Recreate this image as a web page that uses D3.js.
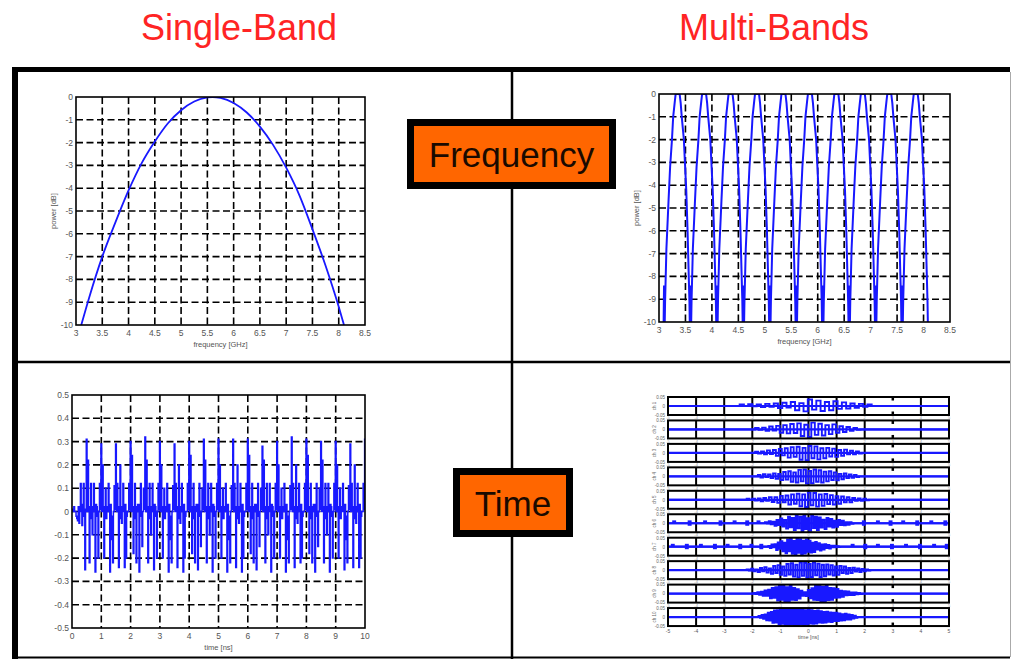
<!DOCTYPE html>
<html><head><meta charset="utf-8">
<script src="https://cdn.jsdelivr.net/npm/d3@7"></script>
<style>body{margin:0;background:#fff}svg{display:block}</style>
</head><body><svg id="c" width="1013" height="659"></svg>
<script>
// ---------------- DATA ----------------
const columnTitles = ["Single-Band", "Multi-Bands"];
const rowLabels = ["Frequency", "Time"];

// frequency-domain axes
const freqTicks = [3, 3.5, 4, 4.5, 5, 5.5, 6, 6.5, 7, 7.5, 8, 8.5];
const freqTickLabels = ["3", "3.5", "4", "4.5", "5", "5.5", "6", "6.5", "7", "7.5", "8", "8.5"];
const powerTicks = [0, -1, -2, -3, -4, -5, -6, -7, -8, -9, -10];
const powerTickLabels = ["0", "-1", "-2", "-3", "-4", "-5", "-6", "-7", "-8", "-9", "-10"];

// single band spectrum
const sbFreq = [3.1, 3.25, 3.5, 3.75, 4, 4.25, 4.5, 4.75, 5, 5.25, 5.5, 5.6, 5.75, 6, 6.25, 6.5, 6.75, 7, 7.25, 7.5, 7.75, 8, 8.1];
const sbPower = [-10, -8.8, -7.0, -5.5, -4.1, -2.9, -1.95, -1.15, -0.58, -0.2, -0.02, 0, -0.04, -0.26, -0.68, -1.3, -2.1, -3.1, -4.3, -5.8, -7.4, -9.2, -10];

// multi band spectrum: band centres and the shape of one lobe (offset GHz, power dB)
const mbCenters = [3.35, 3.85, 4.35, 4.85, 5.35, 5.85, 6.35, 6.85, 7.35, 7.85];
const lobeOffset = [-0.265, -0.255, -0.245, -0.235, -0.21, -0.17, -0.14, -0.105, -0.082, -0.05, -0.035, 0.04, 0.06, 0.08, 0.12, 0.14, 0.165, 0.19, 0.21, 0.225, 0.235];
const lobePower = [-10.5, -8.4, -10.5, -9.1, -6.8, -4.7, -3.2, -2, -1, -0.3, 0, 0, -0.4, -1, -2, -3, -4.2, -6, -7.8, -9.1, -10.5];

// single band time signal (samples every 0.025 ns)
const timeTicks = [0, 1, 2, 3, 4, 5, 6, 7, 8, 9, 10];
const timeTickLabels = ["0", "1", "2", "3", "4", "5", "6", "7", "8", "9", "10"];
const ampTicks = [0.5, 0.4, 0.3, 0.2, 0.1, 0, -0.1, -0.2, -0.3, -0.4, -0.5];
const ampTickLabels = ["0.5", "0.4", "0.3", "0.2", "0.1", "0", "-0.1", "-0.2", "-0.3", "-0.4", "-0.5"];
const tdStep = 0.025;
const tdIntro = [0.01, 0.01, 0.0, -0.02, -0.04, -0.05, 0.12, -0.06, 0.12, -0.25];
const tdSpikes = [0.31, 0.29, 0.29, 0.30, 0.32, 0.30, 0.29, 0.30, 0.31, 0.31, 0.31, 0.31, 0.28, 0.30, 0.32, 0.31, 0.30, 0.30, 0.29, 0.31];
const tdTroughs = [-0.26, -0.26, -0.24, -0.26, -0.25, -0.26, -0.26, -0.25, -0.26, -0.26, -0.26, -0.25, -0.26, -0.26, -0.22, -0.26, -0.26, -0.25, -0.24, -0.26];
const tdPatterns = [
  [0.22, -0.22, 0.12, -0.1, 0.12, 0.02, -0.2, 0.12],
  [0.2, -0.2, 0.1, 0.0, 0.12, -0.12, -0.22, 0.11],
  [0.12, -0.24, 0.2, -0.05, 0.12, -0.2, 0.0, 0.12],
  [0.24, -0.18, 0.12, -0.22, 0.03, 0.12, -0.15, 0.1]
];
const tdRest = [0.0, 0.02, 0.0, -0.03, 0.02, 0.0, 0.03, -0.02, 0.0, 0.01];

// multi band time signals (10 stacked panels), amplitudes in units of 0.01
const msTicks = [-5, -4, -3, -2, -1, 0, 1, 2, 3, 4, 5];
const msTickLabels = ["-5", "-4", "-3", "-2", "-1", "0", "1", "2", "3", "4", "5"];
const msGridFull = [-4, -3, -2, -1, 0, 1, 2, 4];
const msGridMark = [3];
const msYTicks = [5, 0, -5];
const msYTickLabels = ["0.05", "0", "-0.05"];
const msNames = ["ch 1", "ch 2", "ch 3", "ch 4", "ch 5", "ch 6", "ch 7", "ch 8", "ch 9", "ch 10"];
const msStart = [-2.45, -1.9, -1.9, -1.8, -2.2, -1.55, -1.43, -2.2, -1.95, -1.78];
const msEnd = [2.4, 1.85, 1.9, 1.8, 2.15, 1.6, 1.13, 2.2, 1.9, 1.74];
const msWaves = [
  [0.8,0,1,-0.2,0.8,-0.6,1.2,-0.4,1.4,-1.2,1.8,-0.8,2.2,-2.4,1.6,-3,3.6,-2,3,-2.8,2.2,-2.4,2.6,-1.6,2,-1.4,1.4,-1,1.2,-0.4,0.8,0],
  [0.8,-0.2,1,-0.8,1.6,-0.6,2,-1.8,2.4,-2.2,3,-2,3.4,-3.6,2.6,-4.2,3.8,-3,3.2,-3.4,2.4,-2.6,2.8,-1.8,1.8,-1.4,1.4,-0.8,0.8,-0.2],
  [0.6,-0.4,0.8,-0.8,1.4,-0.6,1.6,-1.6,2.2,-1.4,2.6,-2.6,3.2,-2.2,3.4,-3.8,2.8,-4,3.8,-3,3.6,-3.6,2.6,-3,2.8,-2,2.4,-2.2,1.6,-1.6,1.8,-0.8,1.2,-0.8,0.8,-0.3],
  [0.8,-0.6,1.2,-0.4,1,-1,1.6,-1.4,1.4,-2,2.4,-1.8,2.8,-3,2.2,-3.4,3.6,-2.8,3.8,-4,3,-3.8,3.8,-3,3.4,-3.4,2.6,-2.8,2.8,-2,2.2,-2.2,1.4,-1.6,1.6,-1,1,-0.8,0.8,-0.4],
  [0.6,-0.2,0.6,-0.4,0.8,-0.8,1,-0.6,1.4,-1.2,1.4,-1.6,2.2,-1.4,2.4,-2.6,3,-2.2,3.4,-3.6,3,-4,4,-3,3.8,-3.8,3,-3.4,3.2,-2.4,2.6,-2.6,2,-2.2,1.8,-1.4,1.4,-1.4,1,-0.6,0.8,-0.6,0.6,-0.3],
  [0.6,-0.2,1.2,-0.6,0.8,-1.4,1.8,-1,2.6,-1.8,1.8,-3,3.6,-2.2,3,-3.8,4.2,-2.8,3.6,-4.4,4.4,-3.2,2.8,-4.2,4.2,-2.6,3.6,-3.8,3.2,-2.4,2,-3.2,3,-1.8,2.4,-2.4,1.4,-2,1.8,-1,1.4,-1.2,0.6,-0.8,0.6,-0.3],
  [0.4,-0.8,1.2,-0.4,1.4,-1.8,2.4,-1.2,3,-2.6,2.2,-3.6,4,-2.6,4.4,-4,3.2,-4.6,4.6,-3.4,4.2,-4.4,3.4,-3.8,4,-2.8,3.4,-3.2,2.2,-3,2.6,-1.6,2,-2.2,1.2,-1.6,1.4,-0.8,1,-1,0.6,-0.4,0.6,-0.3,0.3,-0.2],
  [0.4,-0.2,0.8,-0.6,0.4,-1,1.2,-0.6,1.6,-1.4,1,-2,2.4,-1.6,2.8,-2.6,2,-3.2,3.4,-2.4,3.8,-3.6,3,-4,4.2,-3.2,4,-4.2,3.4,-3.8,4.2,-2.8,3.6,-3.8,3,-3.4,3.2,-2.4,2.8,-3,2,-2.6,2.4,-1.6,2,-2,1.2,-1.6,1.4,-0.8,1,-1,0.6,-0.6,0.4,-0.2],
  [0.4,-0.2,0.8,-0.6,1,-1.2,1.8,-1.2,2.2,-2.6,3.2,-2.4,3.6,-3.8,4.2,-3.4,4.4,-4.4,3.6,-4.2,4.2,-3.4,3.2,-3.6,2.4,-2.8,1.6,-1.2,0.8,-1.4,2,-2.6,3,-3.4,4.2,-3.6,4.4,-4.4,3.8,-4.2,4.2,-3.6,3.2,-3.4,3,-2.4,2.6,-2.2,1.6,-1.8,1.4,-1,1.2,-0.8,0.6,-0.8,0.6,-0.4,0.4,-0.2],
  [0.6,-0.4,1.2,-1,1.4,-1.8,2.4,-2,2.8,-3.2,3.6,-3,3.8,-4.2,4.4,-3.8,4.6,-4.6,4.2,-4.6,4.6,-4.2,4.6,-4.6,4.4,-4.6,4.6,-4,4.4,-4.4,3.8,-4.2,4.2,-3.6,3.8,-3.8,3.4,-3.6,3.6,-3,3.2,-3.2,2.8,-3,3,-2.6,2.6,-2.8,2.4,-2.2,2.4,-2.2,2,-2,1.6,-1.8,1.8,-1.4,1.4,-1.4,1.2,-0.8,0.8,-0.4]
];
const msBlips = [[], [], [], [], [],
  [-4.85, -4.3, -3.75, -3.2, -2.7, -2.25, -1.85, 1.9, 2.4, 2.85, 3.3, 3.8, 4.3, 4.8],
  [-4.9, -4.4, -3.9, -3.4, -2.95, -2.5, -2.1, -1.75, 1.5, 1.95, 2.4, 2.9, 3.4, 3.9, 4.4, 4.85],
  [], [], []];
const msBlipHeight = [1.6, -1.4];

// ---------------- DRAWING ----------------
const svg = d3.select("#c");
const BLUE = "#1818ff";
const FONT = "Liberation Sans, Arial, sans-serif";
const defs = svg.append("defs");
let clipN = 0;

// column titles
svg.selectAll(".ctitle").data(columnTitles).join("text")
  .attr("x", (d, i) => [239, 774][i]).attr("y", 40)
  .attr("text-anchor", "middle").attr("font-family", FONT).attr("font-size", 36)
  .attr("fill", "#ff2424").text(d => d);

// outer frame
const fr = svg.append("g").attr("stroke", "#000");
fr.append("line").attr("x1", 15).attr("x2", 15).attr("y1", 67).attr("y2", 659).attr("stroke-width", 6);
fr.append("line").attr("x1", 12).attr("x2", 1010).attr("y1", 69.5).attr("y2", 69.5).attr("stroke-width", 5);
fr.append("line").attr("x1", 1010.5).attr("x2", 1010.5).attr("y1", 72).attr("y2", 657).attr("stroke-width", 1).attr("stroke", "#aaa");
fr.append("line").attr("x1", 12).attr("x2", 1010).attr("y1", 657.5).attr("y2", 657.5).attr("stroke-width", 2);
fr.append("line").attr("x1", 512).attr("x2", 512).attr("y1", 72).attr("y2", 659).attr("stroke-width", 2.5);
fr.append("line").attr("x1", 18).attr("x2", 1010).attr("y1", 362).attr("y2", 362).attr("stroke-width", 2.5);

function gridPlot(cfg) {
  const x = d3.scaleLinear().domain(cfg.xDomain).range([cfg.left, cfg.right]);
  const y = d3.scaleLinear().domain(cfg.yDomain).range([cfg.bottom, cfg.top]);
  const g = svg.append("g");
  const id = "clip" + (clipN++);
  defs.append("clipPath").attr("id", id).append("rect")
    .attr("x", cfg.left).attr("y", cfg.top).attr("width", cfg.right - cfg.left).attr("height", cfg.bottom - cfg.top);
  const xi = cfg.xTicks.filter(t => t > cfg.xDomain[0] && t < cfg.xDomain[1]);
  const yi = cfg.yTicks.filter(t => t > Math.min(...cfg.yDomain) && t < Math.max(...cfg.yDomain));
  const gs = { stroke: "#000", w: 1.6, dash: "7,3.5" };
  g.selectAll(null).data(xi).join("line")
    .attr("x1", d => x(d)).attr("x2", d => x(d)).attr("y1", cfg.top).attr("y2", cfg.bottom)
    .attr("stroke", gs.stroke).attr("stroke-width", gs.w).attr("stroke-dasharray", gs.dash);
  g.selectAll(null).data(yi).join("line")
    .attr("y1", d => y(d)).attr("y2", d => y(d)).attr("x1", cfg.left).attr("x2", cfg.right)
    .attr("stroke", gs.stroke).attr("stroke-width", gs.w).attr("stroke-dasharray", gs.dash);
  g.selectAll(null).data(cfg.xTicks).join("text")
    .attr("x", d => x(d)).attr("y", cfg.bottom + 11).attr("text-anchor", "middle")
    .attr("font-family", FONT).attr("font-size", 8.5).attr("fill", "#555")
    .text((d, i) => cfg.xTickLabels[i]);
  g.selectAll(null).data(cfg.yTicks).join("text")
    .attr("x", cfg.left - 3).attr("y", d => y(d) + 3).attr("text-anchor", "end")
    .attr("font-family", FONT).attr("font-size", 8.5).attr("fill", "#555")
    .text((d, i) => cfg.yTickLabels[i]);
  if (cfg.xLabel) g.append("text").attr("x", (cfg.left + cfg.right) / 2).attr("y", cfg.bottom + 22)
    .attr("text-anchor", "middle").attr("font-family", FONT).attr("font-size", 7.5).attr("fill", "#555").text(cfg.xLabel);
  if (cfg.yLabel) g.append("text").attr("transform", `translate(${cfg.left - 20},${(cfg.top + cfg.bottom) / 2}) rotate(-90)`)
    .attr("text-anchor", "middle").attr("font-family", FONT).attr("font-size", 7.5).attr("fill", "#555").text(cfg.yLabel);
  const plot = g.append("g").attr("clip-path", `url(#${id})`);
  g.append("rect").attr("x", cfg.left).attr("y", cfg.top)
    .attr("width", cfg.right - cfg.left).attr("height", cfg.bottom - cfg.top)
    .attr("fill", "none").attr("stroke", "#000").attr("stroke-width", 1.6);
  return { x, y, plot };
}

// --- top left: single band spectrum
{
  const p = gridPlot({ left: 76, right: 365, top: 97, bottom: 325, xDomain: [3, 8.5], yDomain: [-10, 0],
    xTicks: freqTicks, xTickLabels: freqTickLabels, yTicks: powerTicks, yTickLabels: powerTickLabels,
    xLabel: "frequency [GHz]", yLabel: "power [dB]" });
  const pts = sbFreq.map((f, i) => [f, sbPower[i]]);
  p.plot.append("path").datum(pts)
    .attr("d", d3.line().x(d => p.x(d[0])).y(d => p.y(d[1])).curve(d3.curveMonotoneX))
    .attr("fill", "none").attr("stroke", BLUE).attr("stroke-width", 1.8);
}

// --- top right: multi band spectrum
{
  const p = gridPlot({ left: 659, right: 950, top: 94, bottom: 322, xDomain: [3, 8.5], yDomain: [-10, 0],
    xTicks: freqTicks, xTickLabels: freqTickLabels, yTicks: powerTicks, yTickLabels: powerTickLabels,
    xLabel: "frequency [GHz]", yLabel: "power [dB]" });
  const pts = [];
  mbCenters.forEach(c => lobeOffset.forEach((o, i) => pts.push([c + o, lobePower[i]])));
  p.plot.append("path").datum(pts)
    .attr("d", d3.line().x(d => p.x(d[0])).y(d => p.y(d[1])))
    .attr("fill", "none").attr("stroke", BLUE).attr("stroke-width", 2);
}

// --- bottom left: single band time signal
{
  const p = gridPlot({ left: 72, right: 365, top: 395, bottom: 628, xDomain: [0, 10], yDomain: [-0.5, 0.5],
    xTicks: timeTicks, xTickLabels: timeTickLabels, yTicks: ampTicks, yTickLabels: ampTickLabels,
    xLabel: "time [ns]", yLabel: null });
  const main = tdIntro.slice();
  tdSpikes.forEach((s, k) => {
    const pat = tdPatterns[k % tdPatterns.length];
    main.push(s, ...pat.slice(0, 5), tdTroughs[k], ...pat.slice(5, 8));
  });
  const vals = [];
  main.forEach((v, i) => vals.push(v, tdRest[i % tdRest.length]));
  const pts = vals.map((v, i) => [i * tdStep, v]);
  p.plot.append("path").datum(pts)
    .attr("d", d3.line().x(d => p.x(d[0])).y(d => p.y(d[1])).curve(d3.curveStep))
    .attr("fill", "none").attr("stroke", BLUE).attr("stroke-width", 1.5);
}

// --- bottom right: 10 stacked multi band time signals
{
  const left = 668, right = 949, firstTop = 397, pitch = 23.45, ph = 18;
  const x = d3.scaleLinear().domain([-5, 5]).range([left, right]);
  const g = svg.append("g");
  msWaves.forEach((wave, k) => {
    const top = firstTop + k * pitch, bottom = top + ph;
    const y = d3.scaleLinear().domain([-5, 5]).range([bottom, top]);
    const pg = g.append("g");
    const id = "mclip" + k;
    defs.append("clipPath").attr("id", id).append("rect").attr("x", left).attr("y", top).attr("width", right - left).attr("height", ph);
    pg.selectAll(null).data(msGridFull).join("line")
      .attr("x1", d => x(d)).attr("x2", d => x(d)).attr("y1", top).attr("y2", bottom)
      .attr("stroke", "#000").attr("stroke-width", 2);
    msGridMark.forEach(m => {
      pg.append("line").attr("x1", x(m)).attr("x2", x(m)).attr("y1", top).attr("y2", top + 3.5).attr("stroke", "#000").attr("stroke-width", 2.5);
      pg.append("line").attr("x1", x(m)).attr("x2", x(m)).attr("y1", bottom - 3.5).attr("y2", bottom).attr("stroke", "#000").attr("stroke-width", 2.5);
    });
    pg.selectAll(null).data(msYTicks).join("text")
      .attr("x", left - 3).attr("y", d => y(d) + 1.8).attr("text-anchor", "end")
      .attr("font-family", FONT).attr("font-size", 4.5).attr("fill", "#666")
      .text((d, i) => msYTickLabels[i]);
    pg.append("text").attr("transform", `translate(${left - 12},${(top + bottom) / 2}) rotate(-90)`)
      .attr("text-anchor", "middle").attr("font-family", FONT).attr("font-size", 4.5).attr("fill", "#666").text(msNames[k]);
    const last = k === msWaves.length - 1;
    pg.selectAll(null).data(msTicks).join("text")
      .attr("x", d => x(d)).attr("y", bottom + (last ? 6.5 : 4.2)).attr("text-anchor", "middle")
      .attr("font-family", FONT).attr("font-size", last ? 5 : 4).attr("fill", last ? "#555" : "#999")
      .text((d, i) => msTickLabels[i]);
    const n = wave.length;
    const dt = (msEnd[k] - msStart[k]) / n;
    const pts = [[-5, 0], [msStart[k], 0]];
    wave.forEach((v, i) => pts.push([msStart[k] + i * dt, v]));
    pts.push([msEnd[k], 0], [5, 0]);
    const plot = pg.append("g").attr("clip-path", `url(#${id})`);
    plot.append("line").attr("x1", left).attr("x2", right).attr("y1", y(0)).attr("y2", y(0))
      .attr("stroke", BLUE).attr("stroke-width", 2.2);
    plot.append("path").datum(pts)
      .attr("d", d3.line().x(d => x(d[0])).y(d => y(d[1])).curve(d3.curveStepAfter))
      .attr("fill", "none").attr("stroke", BLUE).attr("stroke-width", 1.9);
    msBlipHeight.forEach((h, j) => {
      plot.selectAll(null).data(msBlips[k].filter((d, i) => i % 2 === j || j === 0)).join("rect")
        .attr("x", d => x(d)).attr("width", d => x(d + 0.14) - x(d))
        .attr("y", Math.min(y(h), y(0))).attr("height", Math.abs(y(0) - y(h)))
        .attr("fill", BLUE);
    });
    pg.append("rect").attr("x", left).attr("y", top).attr("width", right - left).attr("height", ph)
      .attr("fill", "none").attr("stroke", "#000").attr("stroke-width", 2);
  });
  g.append("text").attr("x", x(0)).attr("y", firstTop + 9 * pitch + ph + 12.5).attr("text-anchor", "middle")
    .attr("font-family", FONT).attr("font-size", 5.5).attr("fill", "#555").text("time [ns]");
}

// --- orange row labels
const boxes = [
  { x: 407, y: 119, w: 209, h: 70, tx: 511.5, ty: 167 },
  { x: 453, y: 468, w: 120, h: 69, tx: 513, ty: 516 }
];
rowLabels.forEach((lab, i) => {
  const b = boxes[i];
  svg.append("rect").attr("x", b.x + 3.5).attr("y", b.y + 3.5).attr("width", b.w - 7).attr("height", b.h - 7)
    .attr("fill", "#ff6600").attr("stroke", "#000").attr("stroke-width", 7);
  svg.append("text").attr("x", b.tx).attr("y", b.ty).attr("text-anchor", "middle")
    .attr("font-family", FONT).attr("font-size", 35).attr("fill", "#1a0a00").text(lab);
});
</script>
</body></html>
